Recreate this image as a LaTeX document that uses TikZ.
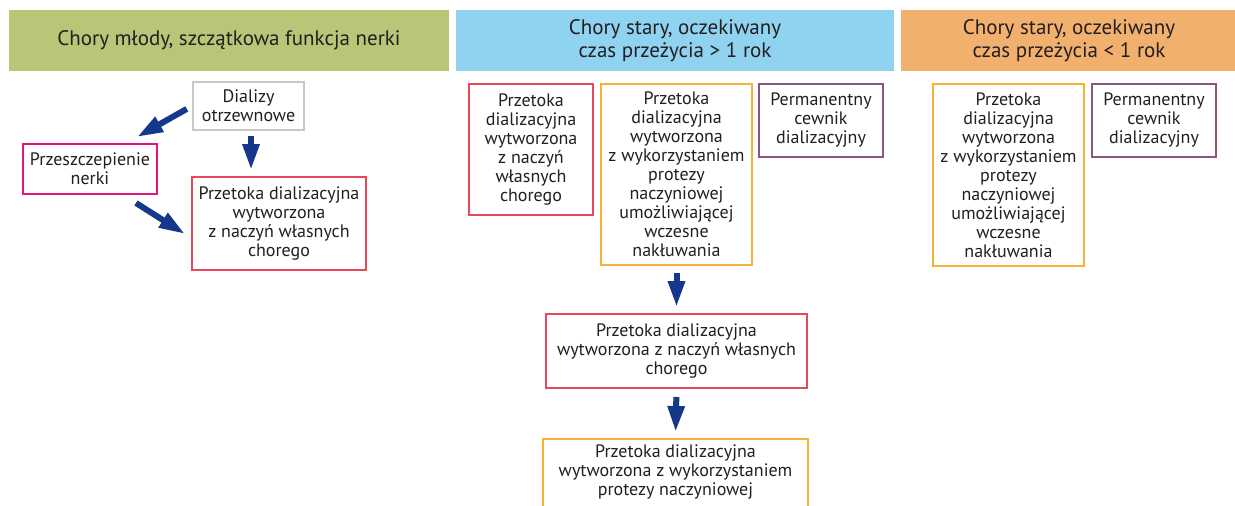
\documentclass[tikz,border=0pt]{standalone}
\usepackage{fontspec}
\setmainfont{PT Sans}
\usetikzlibrary{arrows.meta}
\definecolor{hgreen}{RGB}{185,198,120}
\definecolor{hblue}{RGB}{143,211,240}
\definecolor{horange}{RGB}{242,176,110}
\definecolor{cgray}{RGB}{200,200,200}
\definecolor{cmag}{RGB}{226,20,126}
\definecolor{cred}{RGB}{232,72,90}
\definecolor{corange}{RGB}{246,178,52}
\definecolor{cpurple}{RGB}{140,85,125}
\definecolor{cnavy}{RGB}{22,56,140}
\definecolor{ctext}{RGB}{35,31,32}
\tikzset{
  hdr/.style={fill=#1, draw=none, inner sep=0, align=center, text=ctext,
    font=\fontsize{21}{23.5}\selectfont},
  box/.style={draw=#1, line width=2pt, fill=white, inner sep=0, align=center,
    text=ctext, font=\fontsize{18}{19}\selectfont},
  bigarrow/.style={draw=cnavy, line width=6pt,
    -{Triangle[length=26pt,width=16pt]}}
}
\begin{document}
\begin{tikzpicture}[x=1pt,y=-1pt]
\useasboundingbox (0,0) rectangle (1235,506);
\clip (0,0) rectangle (1235,506);
% headers
\node[hdr=hgreen, minimum width=440, minimum height=61] (h1) at (229,40.5) {Chory młody, szczątkowa funkcja nerki};
\node[hdr=hblue, minimum width=438, minimum height=61] (h2) at (675,40.5) {Chory stary, oczekiwany\\czas przeżycia > 1 rok};
\node[hdr=horange, minimum width=336, minimum height=61] (h3) at (1069,40.5) {Chory stary, oczekiwany\\czas przeżycia < 1 rok};
% left panel
\node[box=cgray, minimum width=111, minimum height=48] (dial) at (248.5,106) {Dializy\\otrzewnowe};
\node[box=cmag, minimum width=134, minimum height=50] (tx) at (90,169) {Przeszczepienie\\nerki};
\node[box=cred, minimum width=174, minimum height=93] (avf1) at (279,223.5) {Przetoka dializacyjna\\wytworzona\\z naczyń własnych\\chorego};
\coordinate (t1) at (137,137);
\coordinate (s3) at (136,203);
\coordinate (t3) at (185,234);
\draw[bigarrow, shorten <=6pt] (dial.west) -- (t1);
\draw[bigarrow, shorten <=5pt, shorten >=6pt] (251,0 |- dial.south) -- (251,0 |- avf1.north);
\draw[bigarrow] (s3) -- (t3);
% middle panel
\node[box=cred, minimum width=124, minimum height=131] (m1) at (531,149.5) {Przetoka\\dializacyjna\\wytworzona\\z naczyń\\własnych\\chorego};
\node[box=corange, minimum width=151, minimum height=181] (m2) at (676.5,174.5) {Przetoka\\dializacyjna\\wytworzona\\z wykorzystaniem\\protezy\\naczyniowej\\umożliwiającej\\wczesne\\nakłuwania};
\node[box=cpurple, minimum width=124, minimum height=73] (m3) at (821,120.5) {Permanentny\\cewnik\\dializacyjny};
\node[box=cred, minimum width=261, minimum height=74] (m4) at (676.5,351) {Przetoka dializacyjna\\wytworzona z naczyń własnych\\chorego};
\node[box=corange, minimum width=265, minimum height=100, anchor=north] (m5) at (675.5,438) {};
\node[font=\fontsize{18}{19}\selectfont, text=ctext, align=center, anchor=north, inner sep=0] (m5t) at (675.5,445) {Przetoka dializacyjna\\wytworzona z wykorzystaniem\\protezy naczyniowej};
\draw[bigarrow, shorten <=6.5pt, shorten >=6pt] (m2.south) -- (m4.north);
\draw[bigarrow, shorten <=8pt, shorten >=6pt] (m4.south) -- (m5.north);
% right panel
\node[box=corange, minimum width=151, minimum height=182] (r1) at (1008.5,175) {Przetoka\\dializacyjna\\wytworzona\\z wykorzystaniem\\protezy\\naczyniowej\\umożliwiającej\\wczesne\\nakłuwania};
\node[box=cpurple, minimum width=124, minimum height=73] (r2) at (1154,120.5) {Permanentny\\cewnik\\dializacyjny};
\end{tikzpicture}
\end{document}
